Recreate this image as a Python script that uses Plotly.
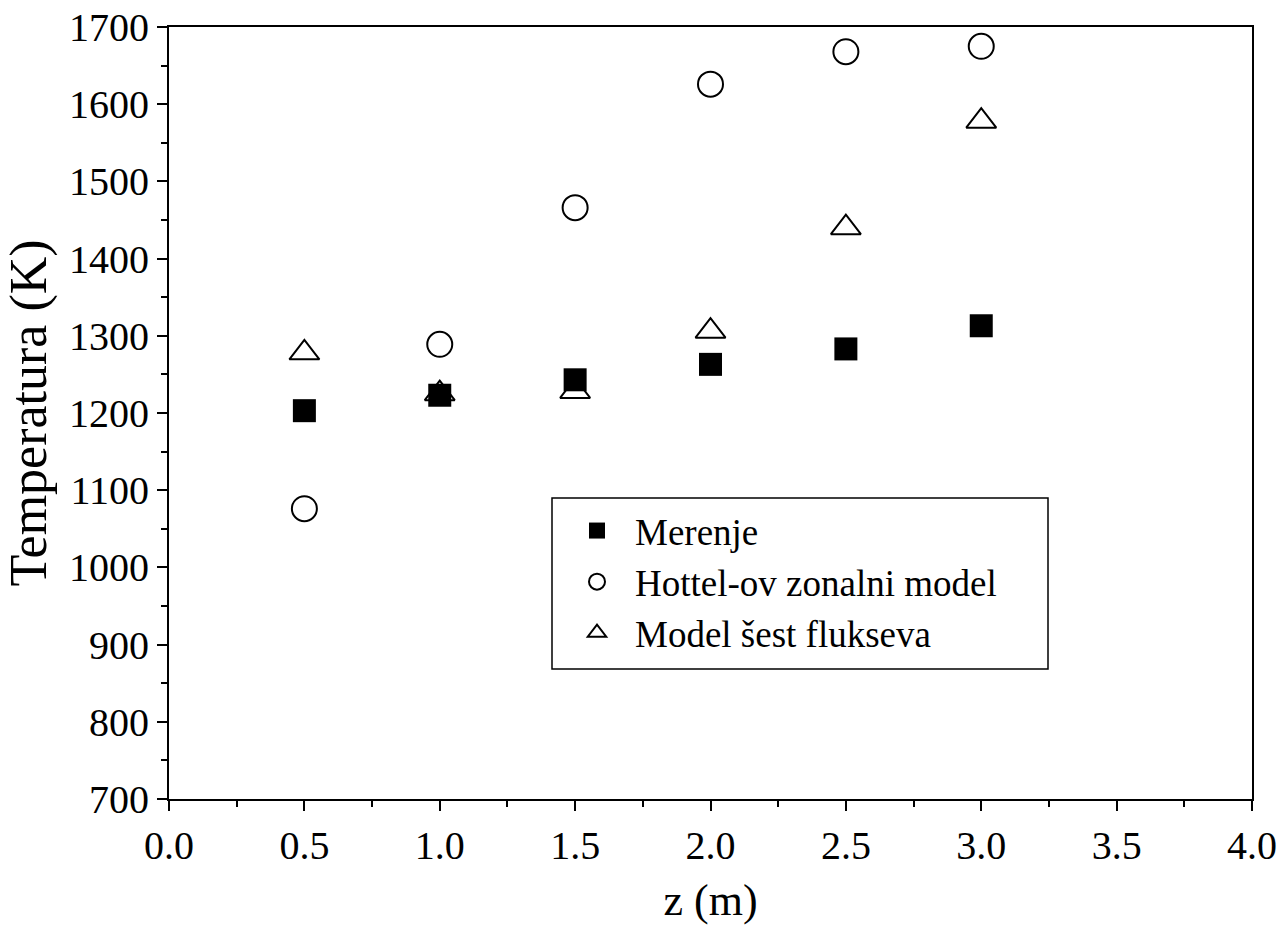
import plotly.graph_objects as go

# Data
z = [0.5, 1.0, 1.5, 2.0, 2.5, 3.0]
merenje = [1203, 1223, 1243, 1263, 1283, 1313]
hottel = [1076, 1289, 1466, 1626, 1668, 1675]
sest_fluks = [1278, 1225, 1228, 1306, 1440, 1578]

series_names = ["Merenje", "Hottel-ov zonalni model", "Model šest flukseva"]

FONT = "Liberation Serif, Times New Roman, serif"

fig = go.Figure()
fig.add_trace(go.Scatter(
    x=z, y=merenje, mode="markers", name=series_names[0],
    marker=dict(symbol="square", size=23, color="black",
                line=dict(color="black", width=0)),
))
fig.add_trace(go.Scatter(
    x=z, y=hottel, mode="markers", name=series_names[1],
    marker=dict(symbol="circle-open", size=25, color="black",
                line=dict(color="black", width=2)),
))
fig.add_trace(go.Scatter(
    x=z, y=sest_fluks, mode="markers", name=series_names[2],
    marker=dict(symbol="triangle-up-open", size=26, color="black",
                line=dict(color="black", width=2)),
))

axis_common = dict(
    showgrid=False, zeroline=False, automargin=False,
    showline=True, linecolor="black", linewidth=2, mirror=True,
    ticks="outside", ticklen=10, tickwidth=2, tickcolor="black",
    tickfont=dict(family=FONT, size=40, color="black"),
)

fig.update_xaxes(
    range=[0, 4], tick0=0, dtick=0.5, tickformat=".1f",
    minor=dict(ticks="outside", ticklen=6, tickwidth=2, tickcolor="black", dtick=0.25),
    title=dict(text="z (m)", font=dict(family=FONT, size=44, color="black"), standoff=24),
    **axis_common,
)
fig.update_yaxes(
    range=[700, 1700], tick0=700, dtick=100,
    minor=dict(ticks="outside", ticklen=6, tickwidth=2, tickcolor="black", dtick=50),
    title=dict(text="Temperatura (K)", font=dict(family=FONT, size=52, color="black"), standoff=6),
    **axis_common,
)

# legend frame
fig.add_shape(type="rect", xref="paper", yref="paper",
              x0=(552 - 169) / 1083, x1=(1048 - 169) / 1083,
              y0=(799 - 669) / 772, y1=(799 - 498) / 772,
              line=dict(color="black", width=1.5), fillcolor="rgba(0,0,0,0)")

fig.update_layout(
    width=1282, height=925,
    margin=dict(l=169, r=30, t=27, b=126),
    paper_bgcolor="white", plot_bgcolor="white",
    font=dict(family=FONT, color="black"),
    showlegend=True,
    legend=dict(
        x=(559 - 169) / 1083, y=(799 - 500) / 772, xanchor="left", yanchor="top",
        bgcolor="rgba(0,0,0,0)", borderwidth=0,
        font=dict(family=FONT, size=37, color="black"),
        itemwidth=66, tracegroupgap=0,
    ),
)

# remove the browser's default 8px body margin so the figure sits at the page origin
fig.write_html(
    "out.html",
    config={"displayModeBar": False},
    post_script="document.body.style.margin='0';document.body.style.overflow='hidden';",
)
